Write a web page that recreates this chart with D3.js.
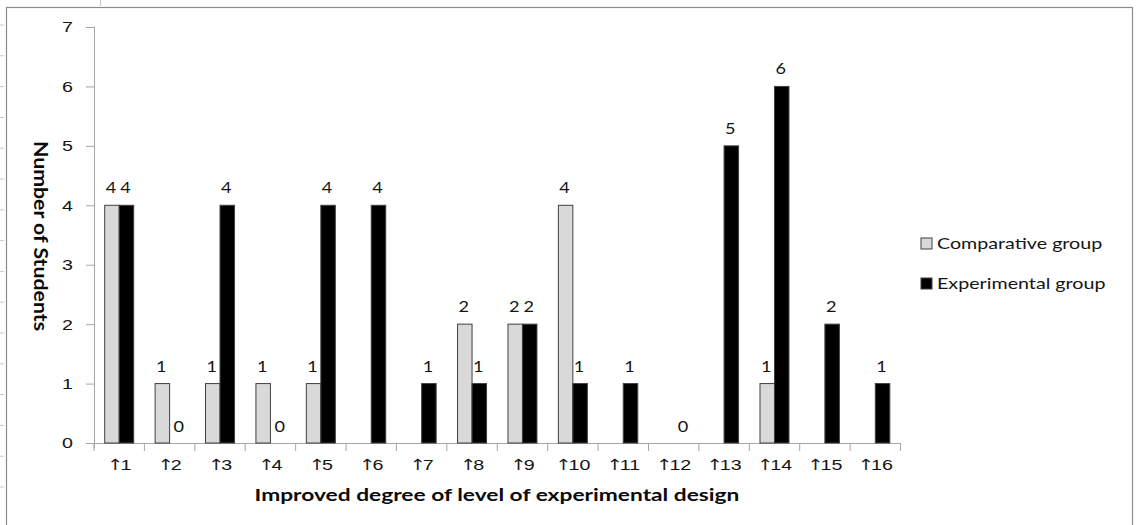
<!DOCTYPE html>
<html><head><meta charset="utf-8">
<script src="https://cdn.jsdelivr.net/npm/d3@7"></script>
<style>
html,body{margin:0;padding:0;background:#fff;}
svg{display:block;font-family:Lato,"Open Sans","DejaVu Sans",sans-serif;}
</style></head>
<body>
<svg id="chart" width="1136" height="525"></svg>
<script>
const categories = ["↑1","↑2","↑3","↑4","↑5","↑6","↑7","↑8","↑9","↑10","↑11","↑12","↑13","↑14","↑15","↑16"];
const comparative = [4,1,1,1,1,null,null,2,2,4,null,null,null,1,null,null];
const experimental = [4,0,4,0,4,4,1,1,2,1,1,0,5,6,2,1];
const seriesNames = ["Comparative group","Experimental group"];
const yTicks = [0,1,2,3,4,5,6,7];
const xTitle = "Improved degree of level of  experimental design";
const yTitle = "Number of Students";

(function(){
const svg = d3.select("#chart");
const mLeft = 94, mRight = 900.5, mTop = 27, mBottom = 443;
const colors = ["#d9d9d9","#000000"];
const K = 1.27;           // horizontal text widening
const FS = 15.5;          // base font size
const TXT = "#141414";

// frame
svg.append("rect").attr("x",6.5).attr("y",7.5).attr("width",1126).attr("height",530)
  .attr("fill","none").attr("stroke","#8c8c8c").attr("stroke-width",1.2);
for(let i=0;i<16;i++){
  svg.append("line").attr("x1",0).attr("x2",4).attr("y1",25+i*30.8).attr("y2",25+i*30.8)
    .attr("stroke","#c8c8c8").attr("stroke-width",1);
}
svg.append("line").attr("x1",100.5).attr("x2",100.5).attr("y1",0).attr("y2",6).attr("stroke","#c8c8c8");

const x = d3.scaleBand().domain(categories).range([mLeft,mRight]).padding(0);
const bw = 14.5;
const xs = d3.scaleBand().domain(seriesNames).range([x.bandwidth()/2 - bw, x.bandwidth()/2 + bw]).padding(0);
const y = d3.scaleLinear().domain([0,7]).range([mBottom,mTop]);

// y axis
const yAxis = svg.append("g").attr("transform",`translate(${mLeft},0)`)
  .call(d3.axisLeft(y).tickValues(yTicks).tickSize(8).tickPadding(11).tickFormat(d3.format("d")));
yAxis.select(".domain").attr("stroke","#a6a6a6").attr("d",`M-0.5,${mTop}H0.5V${mBottom+5}`);
yAxis.selectAll(".tick line").attr("stroke","#a6a6a6");
yAxis.selectAll("text").attr("font-size",FS).attr("fill",TXT)
  .attr("x",-21/K).attr("transform",`scale(${K},1)`);

// x axis
const xAxis = svg.append("g").attr("transform",`translate(0,${mBottom})`)
  .call(d3.axisBottom(x).tickSize(0).tickPadding(16));
xAxis.select(".domain").attr("stroke","#a6a6a6").attr("d",`M${mLeft-8},0.5H${mRight}`);
xAxis.selectAll(".tick text").each(function(d){
  const t = d3.select(this);
  t.text(null).attr("font-size",FS).attr("fill",TXT).attr("transform",`scale(${K},1)`);
  t.append("tspan").attr("font-family","DejaVu Sans").attr("font-size",15.5)
    .attr("letter-spacing",-2.5).attr("fill","#202020").text(d.charAt(0));
  t.append("tspan").text(d.slice(1));
});
const bounds = categories.map(c=>x(c)).concat([x(categories[categories.length-1])+x.bandwidth()]);
xAxis.selectAll("line.bd").data(bounds).enter().append("line").attr("class","bd")
  .attr("x1",d=>d).attr("x2",d=>d).attr("y1",0).attr("y2",8).attr("stroke","#a6a6a6");

// bars
const data = [];
categories.forEach((c,i)=>{
  data.push({c, s:seriesNames[0], v:comparative[i], k:0});
  data.push({c, s:seriesNames[1], v:experimental[i], k:1});
});
const g = svg.append("g");
g.selectAll("rect").data(data.filter(d=>d.v!==null && d.v>0)).enter().append("rect")
  .attr("x",d=>x(d.c)+xs(d.s)).attr("width",xs.bandwidth())
  .attr("y",d=>y(d.v)).attr("height",d=>y(0)-y(d.v))
  .attr("fill",d=>colors[d.k]).attr("stroke","#404040").attr("stroke-width",1);

// labels
g.selectAll("text").data(data.filter(d=>d.v!==null)).enter().append("text")
  .attr("transform",d=>`translate(${x(d.c)+xs(d.s)+xs.bandwidth()/2 + (d.v===0?2:-1)},${y(d.v)-(d.v===0?11:12)}) scale(${K*0.92},1)`)
  .attr("text-anchor","middle").attr("font-size",FS).attr("fill",TXT)
  .text(d=>d.v);

// titles
svg.append("text").attr("transform",`translate(497,501) scale(1.3,1)`).attr("text-anchor","middle")
  .attr("font-size",17.5).attr("font-weight","bold").attr("fill","#0a0a0a").text(xTitle);
svg.append("text").attr("transform","translate(34,236) rotate(90) scale(1.15,1)").attr("text-anchor","middle")
  .attr("font-size",18.5).attr("font-weight","bold").attr("fill","#0a0a0a").text(yTitle);

// legend
const lg = svg.append("g");
seriesNames.forEach((s,i)=>{
  const yy = 243.5 + i*40;
  lg.append("rect").attr("x",921).attr("y",yy-5.5).attr("width",11).attr("height",11)
    .attr("fill",colors[i]).attr("stroke","#404040");
  lg.append("text").attr("transform",`translate(937,${yy+5.5}) scale(${K},1)`)
    .attr("font-size",FS).attr("fill",TXT).text(s);
});
})();
</script>
</body></html>
